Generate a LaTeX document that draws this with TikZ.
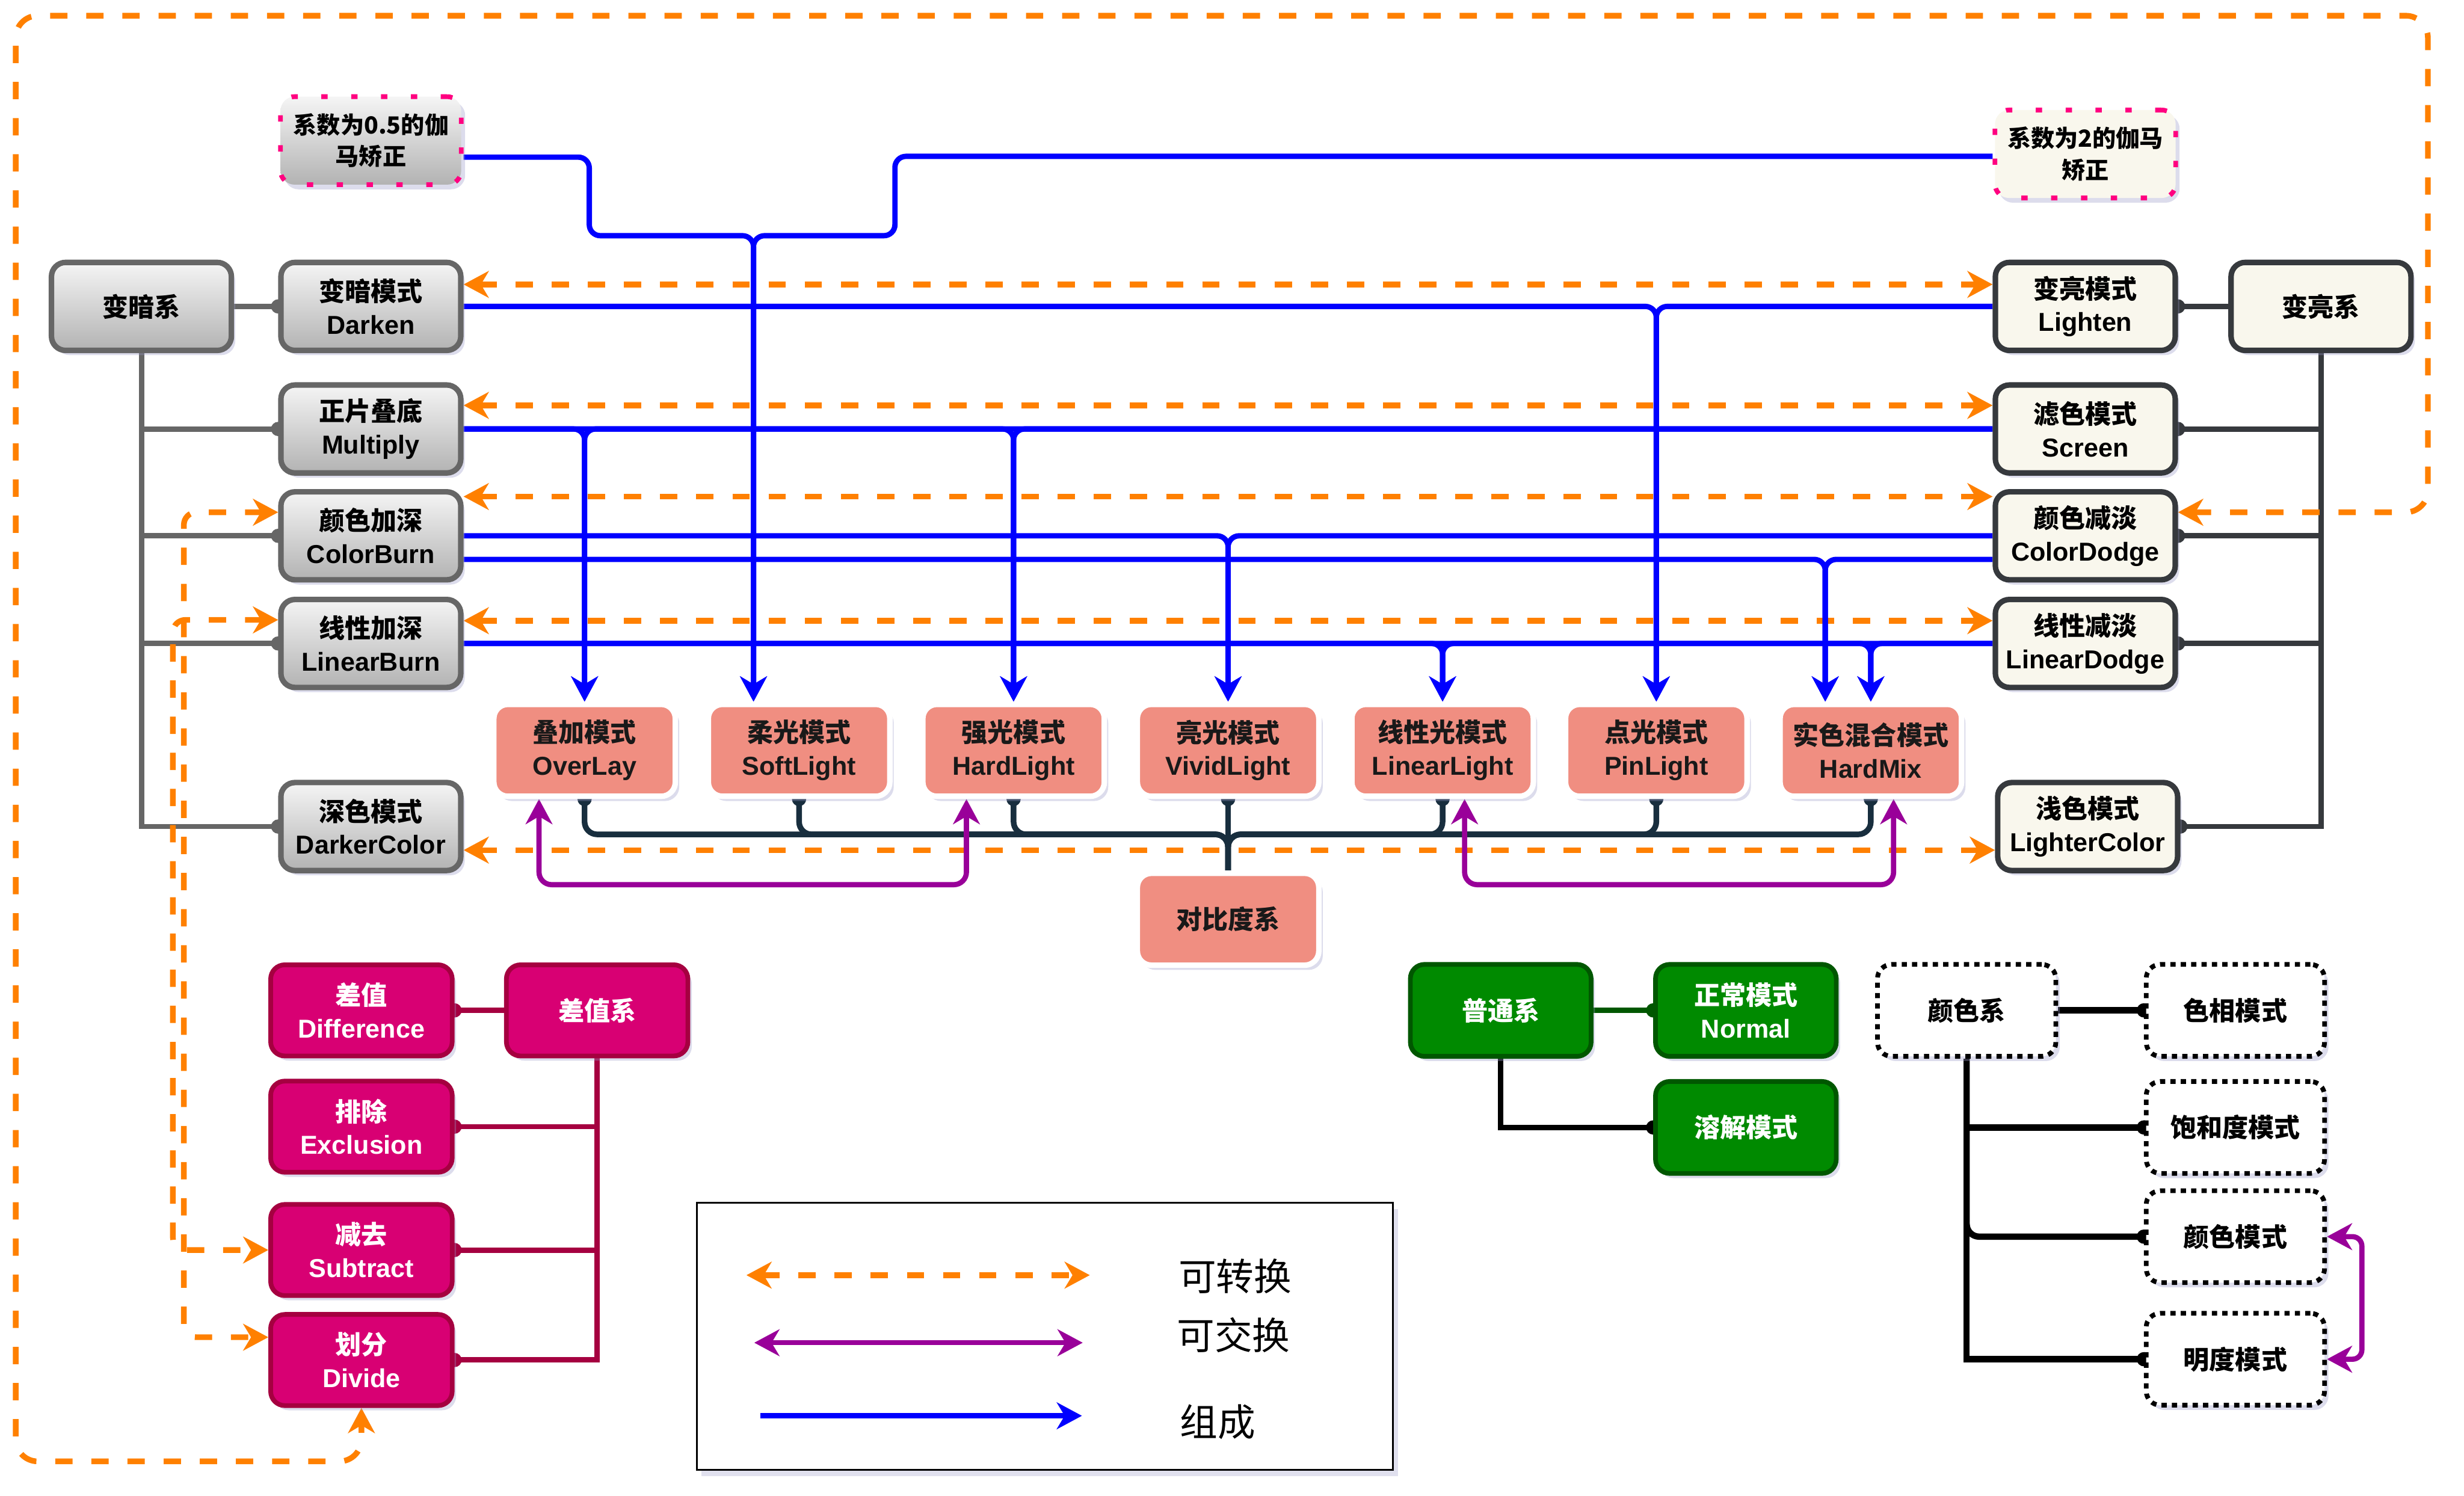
\documentclass[tikz,border=0pt]{standalone}
\usepackage{fontspec}
\setmainfont{Liberation Sans}
\newfontfamily\cjk{Noto Sans CJK SC}
\usetikzlibrary{arrows.meta,shadows}

\definecolor{dkline}{HTML}{666666}
\definecolor{ltline}{HTML}{36393D}
\definecolor{ltfill}{HTML}{F9F7ED}
\definecolor{ctfill}{HTML}{F08E81}
\definecolor{ctline}{HTML}{182E3E}
\definecolor{dffill}{HTML}{D80073}
\definecolor{dfline}{HTML}{A50040}
\definecolor{nmfill}{HTML}{008A00}
\definecolor{nmline}{HTML}{005700}
\definecolor{gmline}{HTML}{FF0080}
\definecolor{swapc}{HTML}{FF8000}
\definecolor{mixc}{HTML}{990099}
\definecolor{shadowc}{HTML}{9A9AC8}

\pgfdeclarelayer{bg}
\pgfsetlayers{bg,main}

\newcommand{\zh}[1]{{\cjk #1}}

\tikzset{
  modebox/.style={rounded corners=9pt,minimum width=114.5pt,minimum height=56pt,align=center,inner sep=1pt,line width=3.5pt,font=\bfseries\fontsize{16.5}{21}\selectfont,drop shadow={shadow xshift=2.5pt,shadow yshift=-3pt,opacity=0.35,fill=shadowc}},
  dkbox/.style={modebox,draw=dkline,top color=white!96!black,bottom color=black!30},
  ltbox/.style={modebox,draw=ltline,fill=ltfill},
  gmbox/.style={modebox,draw=gmline,line width=3pt,dash pattern=on 4pt off 15pt,minimum width=115pt,font=\bfseries\cjk\fontsize{15}{20}\selectfont},
  ctbox/.style={modebox,draw=white,fill=ctfill,text=black!90,minimum width=115.5pt,minimum height=58.5pt},
  dfbox/.style={modebox,draw=dfline,fill=dffill,text=white,line width=3pt,minimum width=115.5pt,minimum height=58pt},
  nmbox/.style={modebox,draw=nmline,fill=nmfill,text=white,line width=3pt,minimum width=115pt,minimum height=58.5pt},
  clbox/.style={modebox,draw=black,fill=white,line width=3pt,dash pattern=on 3.3pt off 3.3pt,minimum width=113.5pt,minimum height=58.5pt},
  tree/.style={line width=3.4pt,-{Circle[length=9pt]},shorten >=-4.5pt},
  swapln/.style={draw=swapc,line width=3.6pt,dash pattern=on 11pt off 12pt,{Stealth[length=16pt,width=17pt,inset=5pt]}-{Stealth[length=16pt,width=17pt,inset=5pt]}},
  mixln/.style={draw=mixc,line width=3.3pt,{Stealth[length=16pt,width=17pt,inset=5pt]}-{Stealth[length=16pt,width=17pt,inset=5pt]}},
  partln/.style={draw=blue,line width=3.4pt,rounded corners=7pt,-{Stealth[length=16pt,width=17pt,inset=5pt]}},
  keytext/.style={font=\cjk\fontsize{24}{24}\selectfont,inner sep=0pt}
}

\begin{document}
\begin{tikzpicture}[x=1pt,y=-1pt]
\useasboundingbox (0,0) rectangle (1568,952);

\node[dkbox] (dksys) at (90,195) {\zh{变暗系}};
\node[dkbox] (dk1) at (236,195) {\zh{变暗模式}\\Darken};
\node[dkbox] (dk2) at (236,273) {\zh{正片叠底}\\Multiply};
\node[dkbox] (dk3) at (236,341) {\zh{颜色加深}\\ColorBurn};
\node[dkbox] (dk4) at (236,409.5) {\zh{线性加深}\\LinearBurn};
\node[dkbox] (dk5) at (236,526) {\zh{深色模式}\\DarkerColor};

\node[ltbox] (ltsys) at (1477,195) {\zh{变亮系}};
\node[ltbox] (lt1) at (1327,195) {\zh{变亮模式}\\Lighten};
\node[ltbox] (lt2) at (1327,273) {\zh{滤色模式}\\Screen};
\node[ltbox] (lt3) at (1327,341) {\zh{颜色减淡}\\ColorDodge};
\node[ltbox] (lt4) at (1327,409.5) {\zh{线性减淡}\\LinearDodge};
\node[ltbox] (lt5) at (1328.5,526) {\zh{浅色模式}\\LighterColor};

\node[gmbox,top color=white!96!black,bottom color=black!30] (gm1) at (236,89.5) {系数为0.5的伽\\马矫正};
\node[gmbox,fill=ltfill] (gm2) at (1327,98) {系数为2的伽马\\矫正};

\node[ctbox] (ct1) at (372,477.5) {\zh{叠加模式}\\OverLay};
\node[ctbox] (ct2) at (508.5,477.5) {\zh{柔光模式}\\SoftLight};
\node[ctbox] (ct3) at (645,477.5) {\zh{强光模式}\\HardLight};
\node[ctbox] (ct4) at (781.5,477.5) {\zh{亮光模式}\\VividLight};
\node[ctbox] (ct5) at (918,477.5) {\zh{线性光模式}\\LinearLight};
\node[ctbox] (ct6) at (1054,477.5) {\zh{点光模式}\\PinLight};
\node[ctbox] (ct7) at (1190.5,477.5) {\zh{实色混合模式}\\HardMix};
\node[ctbox] (ctsys) at (781.5,585) {\zh{对比度系}};

\node[dfbox] (df1) at (230,643) {\zh{差值}\\Difference};
\node[dfbox] (dfsys) at (380,643) {\zh{差值系}};
\node[dfbox] (df2) at (230,717) {\zh{排除}\\Exclusion};
\node[dfbox] (df3) at (230,795.5) {\zh{减去}\\Subtract};
\node[dfbox] (df4) at (230,865.5) {\zh{划分}\\Divide};

\node[nmbox] (nmsys) at (955,643) {\zh{普通系}};
\node[nmbox] (nm1) at (1111,643) {\zh{正常模式}\\Normal};
\node[nmbox] (nm2) at (1111,717.5) {\zh{溶解模式}};

\node[clbox] (clsys) at (1251.5,643) {\zh{颜色系}};
\node[clbox] (cl1) at (1422.5,643) {\zh{色相模式}};
\node[clbox] (cl2) at (1422.5,717.5) {\zh{饱和度模式}};
\node[clbox] (cl3) at (1422.5,787) {\zh{颜色模式}};
\node[clbox] (cl4) at (1422.5,865) {\zh{明度模式}};

\node[draw=black,line width=1.2pt,fill=white,minimum width=443pt,minimum height=170pt,drop shadow={shadow xshift=3pt,shadow yshift=-4pt,opacity=0.3,fill=shadowc}] (legend) at (665,850.5) {};
\coordinate (sw1) at (475,811.5);
\coordinate (sw2) at (693.5,811.5);
\coordinate (mx1) at (480,854.5);
\coordinate (mx2) at (689,854.5);
\coordinate (pt1) at (484,901);
\coordinate (pt2) at (688.5,901);
\node[keytext] (swtxt) at (786,812) {可转换};
\node[keytext] (mxtxt) at (785,849.5) {可交换};
\node[keytext] (pttxt) at (775,905) {组成};
\draw[swapln] (sw1) -- (sw2);
\draw[mixln] (mx1) -- (mx2);
\draw[partln] (pt1) -- (pt2);

\begin{pgfonlayer}{bg}
\draw[tree,draw=dkline] (dksys) -- (dk1);
\foreach \n in {dk2,dk3,dk4,dk5} \draw[tree,draw=dkline] (dksys.south) |- (\n.west);
\draw[tree,draw=ltline] (ltsys) -- (lt1);
\foreach \n in {lt2,lt3,lt4,lt5} \draw[tree,draw=ltline] (ltsys.south) |- (\n.east);
\draw[tree,draw=dfline] (dfsys) -- (df1);
\foreach \n in {df2,df3,df4} \draw[tree,draw=dfline] (dfsys.south) |- (\n.east);
\draw[tree,draw=nmline] (nmsys) -- (nm1);
\draw[tree,draw=black] (nmsys.south) |- (nm2.west);
\draw[tree,draw=black,line width=4pt] (clsys) -- (cl1);
\draw[tree,draw=black,line width=4pt] (clsys.south) |- (cl2.west);
\draw[tree,draw=black,line width=4pt,rounded corners=8pt] (clsys.south) |- (cl3.west);
\draw[tree,draw=black,line width=4pt] (clsys.south) |- (cl4.west);

\draw[tree,draw=ctline,line width=3.6pt] (ctsys.north) -- (ct4.south);
\foreach \n in {ct1,ct2,ct3,ct5,ct6,ct7} \draw[tree,draw=ctline,line width=3.6pt,rounded corners=8pt] (ctsys.north) -- ++(0,-23) -| (\n.south);

\draw[swapln] ([yshift=14pt]dk1.east) -- ([yshift=14pt]lt1.west);
\draw[swapln] ([yshift=15pt]dk2.east) -- ([yshift=15pt]lt2.west);
\draw[swapln] ([yshift=25pt]dk3.east) -- ([yshift=25pt]lt3.west);
\draw[swapln] ([yshift=14.5pt]dk4.east) -- ([yshift=14.5pt]lt4.west);
\draw[swapln] ([yshift=-15pt]dk5.east) -- ([yshift=-15pt]lt5.west);
\draw[swapln,rounded corners=14pt] ([yshift=15pt]lt3.east) -| (1545,10) -| (10,930) -| (df4.south);
\draw[swapln,rounded corners=8pt] ([yshift=15pt]dk3.west) -| (117,600) |- ([yshift=14.5pt]df4.west);
\draw[swapln,rounded corners=8pt] ([yshift=15pt]dk4.west) -| (110,600) |- (df3.west);

\draw[partln] ([yshift=-10.5pt]gm1.east) -| (375,150) -| ([xshift=-29pt]ct2.north);
\draw[partln] ([yshift=-1.5pt]gm2.west) -| (569.5,150) -| ([xshift=-29pt]ct2.north);
\draw[partln] (dk1.east) -| (ct6.north);
\draw[partln] (lt1.west) -| (ct6.north);
\foreach \n in {ct1,ct3} {
  \draw[partln] (dk2.east) -| (\n.north);
  \draw[partln] (lt2.west) -| (\n.north);
}
\draw[partln] (dk3.east) -| (ct4.north);
\draw[partln] (lt3.west) -| (ct4.north);
\draw[partln] ([yshift=-15pt]dk3.east) -| ([xshift=-29pt]ct7.north);
\draw[partln] ([yshift=-15pt]lt3.west) -| ([xshift=-29pt]ct7.north);
\draw[partln] (dk4.east) -| (ct5.north);
\draw[partln] (lt4.west) -| (ct5.north);
\draw[partln] (dk4.east) -| (ct7.north);
\draw[partln] (lt4.west) -| (ct7.north);

\draw[mixln,rounded corners=8pt] ([xshift=-29pt]ct1.south) |- (500,563) -| ([xshift=-30pt]ct3.south);
\draw[mixln,rounded corners=8pt] ([xshift=14pt]ct5.south) |- (1000,563) -| ([xshift=14.5pt]ct7.south);
\draw[mixln,rounded corners=6pt] (cl3.east) -| (1503,830) |- (cl4.east);
\end{pgfonlayer}
\end{tikzpicture}
\end{document}
